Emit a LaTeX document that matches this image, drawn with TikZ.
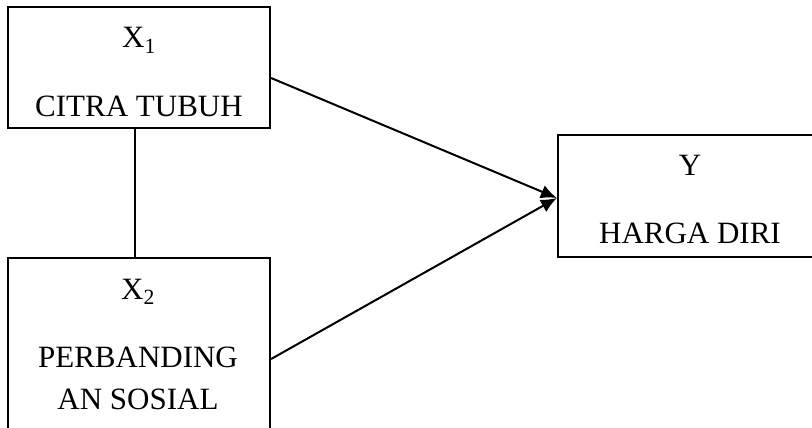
\documentclass[tikz,border=0pt]{standalone}
\usepackage{fontspec}
\setmainfont{Liberation Serif}
\usetikzlibrary{arrows.meta}
\tikzset{
  varbox/.style={draw=black, line width=2.2pt, rectangle, inner sep=0pt},
  lbl/.style={anchor=base, inner sep=0pt, font=\fontsize{31}{36}\selectfont},
  conn/.style={line width=2pt, draw=black},
  arr/.style={conn, -{Latex[length=16pt,width=14pt]}}
}
\begin{document}
\begin{tikzpicture}[x=1pt, y=-1pt]
\useasboundingbox (0,0) rectangle (812,428);
\clip (0,0) rectangle (812,428);
\node[varbox, minimum width=262pt, minimum height=121pt] (x1) at (139,67.5) {};
\node[varbox, minimum width=262pt, minimum height=188pt] (x2) at (139,352) {};
\node[varbox, minimum width=264pt, minimum height=122pt] (y) at (690,196) {};
\node[lbl] (x1a) at (139,48) {X\textsubscript{1}};
\node[lbl] (x1b) at (139,117) {CITRA TUBUH};
\node[lbl] (x2a) at (138,299) {X\textsubscript{2}};
\node[lbl] (x2b) at (138,367) {PERBANDING};
\node[lbl] (x2c) at (138,409) {AN SOSIAL};
\node[lbl] (ya) at (690,175) {Y};
\node[lbl] (yb) at (690,243) {HARGA DIRI};
\draw[conn] ([xshift=-4pt]x1.south) -- ([xshift=-4pt]x2.north);
\draw[arr] ([yshift=-10.5pt]x1.east) -- ([yshift=-2pt]y.west);
\draw[arr] ([yshift=-7pt]x2.east) -- ([yshift=-2pt]y.west);
\end{tikzpicture}
\end{document}
